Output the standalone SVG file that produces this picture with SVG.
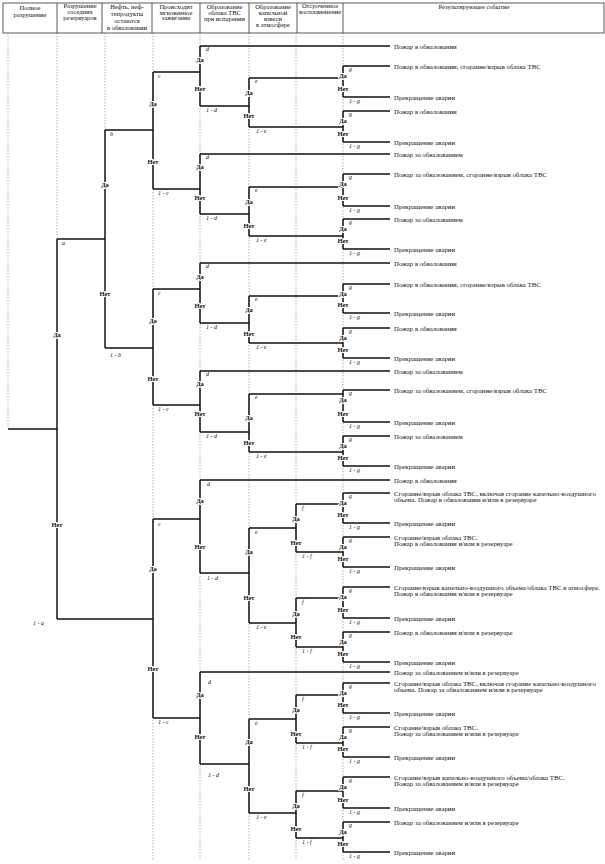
<svg xmlns="http://www.w3.org/2000/svg" width="605" height="864" viewBox="0 0 605 864">
<style>
text{font-family:"Liberation Serif","Times New Roman",serif;fill:#111}
.h{font-size:6.5px;text-anchor:middle}
.o{font-size:6.8px}
.yn{font-size:6.5px;text-anchor:middle;stroke:#fff;stroke-width:2.2;paint-order:stroke;font-weight:bold}
.p{font-size:6px;font-style:italic}
.ln{stroke:#111;stroke-width:1.5;fill:none}
.gd{stroke:#888;stroke-width:0.7;stroke-dasharray:1.5 1.5;fill:none}
.hd{stroke:#333;stroke-width:0.8;fill:none}
</style>
<rect width="605" height="864" fill="#fff"/>
<g id="header">
<rect class="hd" x="3" y="3" width="601" height="30"/>
<path class="hd" d="M57 3V33M102 3V33M152 3V33M200 3V33M249 3V33M297 3V33M343 3V33"/>
<text class="h" x="30" y="10">Полное</text><text class="h" x="30" y="16.5">разрушение</text>
<text class="h" x="80" y="8">Разрушение</text><text class="h" x="80" y="14">соседних</text><text class="h" x="80" y="20">резервуаров</text>
<text class="h" x="127" y="9">Нефть, неф-</text><text class="h" x="127" y="16">тепродукты</text><text class="h" x="127" y="23">остаются</text><text class="h" x="127" y="30">в обваловании</text>
<text class="h" x="176" y="9">Происходит</text><text class="h" x="176" y="14.5">мгновенное</text><text class="h" x="176" y="20">зажигание</text>
<text class="h" x="224.5" y="9">Образование</text><text class="h" x="224.5" y="15">облака ТВС</text><text class="h" x="224.5" y="21">при испарении</text>
<text class="h" x="273" y="9">Образование</text><text class="h" x="273" y="15">капельной</text><text class="h" x="273" y="21">взвеси</text><text class="h" x="273" y="27">в атмосфере</text>
<text class="h" x="320" y="8">Отсроченное</text><text class="h" x="320" y="14">воспламенение</text>
<text class="h" x="474" y="9">Результирующее событие</text>
</g>
<g id="guides">
<path class="gd" d="M8 33V429M57 33V239M105 33V130M153 33V860M200 33V860M249 33V860M296 33V860M343 33V860"/>
</g>
<g id="connectors">
<path class="ln" d="M8 429H57M57 239H105M57 619H153M105 130H153M105 348H153
M153 72H200M153 189H200M200 46H390M200 106H249M249 78H343M249 127H343
M343 66H390M343 97H390M343 111H390M343 142H390
M200 154H390M200 214H249M249 187H343M249 236H343
M343 174H390M343 206H390M343 219H390M343 249H390
M153 289H200M153 405H200M200 263H390M200 323H249M249 296H343M249 343H343
M343 284H390M343 313H390M343 328H390M343 358H390
M200 371H390M200 432H249M249 394H343M249 452H343
M343 390H390M343 422H390M343 436H390M343 466H390
M153 519H200M153 718H200M200 480H390M200 573H249M249 528H296M249 623H296
M296 504H343M296 552H343M296 598H343M296 647H343
M343 493H390M343 523H390M343 537H390M343 567H390M343 587H390M343 618H390M343 632H390M343 662H390
M200 672H390M200 764H249M249 719H296M249 813H296
M296 695H343M296 743H343M296 791H343M296 838H343
M343 683H390M343 713H390M343 727H390M343 757H390M343 777H390M343 808H390M343 822H390M343 852H390"/>
<text class="p" x="62" y="245">a</text><text class="p" x="33" y="625">1 - a</text>
<text class="p" x="110" y="136">b</text><text class="p" x="110" y="357">1 - b</text>
<text class="p" x="158" y="78">c</text><text class="p" x="158" y="195">1 - c</text>
<text class="p" x="206" y="51">d</text><text class="p" x="206" y="112">1 - d</text>
<text class="p" x="255" y="83">e</text><text class="p" x="256" y="133">1 - e</text>
<text class="p" x="206" y="159">d</text><text class="p" x="206" y="220">1 - d</text>
<text class="p" x="255" y="192">e</text><text class="p" x="256" y="242">1 - e</text>
<text class="p" x="158" y="295">c</text><text class="p" x="158" y="411">1 - c</text>
<text class="p" x="206" y="268">d</text><text class="p" x="206" y="329">1 - d</text>
<text class="p" x="255" y="301">e</text><text class="p" x="256" y="349">1 - e</text>
<text class="p" x="206" y="376">d</text><text class="p" x="206" y="438">1 - d</text>
<text class="p" x="255" y="399">e</text><text class="p" x="256" y="458">1 - e</text>
<text class="p" x="158" y="526">c</text><text class="p" x="158" y="724">1 - c</text>
<text class="p" x="207" y="486">d</text><text class="p" x="207" y="580">1 - d</text>
<text class="p" x="255" y="534">e</text><text class="p" x="256" y="629">1 - e</text>
<text class="p" x="302" y="510">f</text><text class="p" x="302" y="558">1 - f</text>
<text class="p" x="302" y="604">f</text><text class="p" x="302" y="653">1 - f</text>
<text class="p" x="208" y="684">d</text><text class="p" x="208" y="777">1 - d</text>
<text class="p" x="255" y="725">e</text><text class="p" x="256" y="819">1 - e</text>
<text class="p" x="302" y="701">f</text><text class="p" x="302" y="749">1 - f</text>
<text class="p" x="302" y="797">f</text><text class="p" x="302" y="844">1 - f</text>
<g id="glabels">
<text class="p" x="349" y="71">g</text><text class="p" x="349" y="103">1 - g</text>
<text class="p" x="349" y="116">g</text><text class="p" x="349" y="148">1 - g</text>
<text class="p" x="349" y="179">g</text><text class="p" x="349" y="212">1 - g</text>
<text class="p" x="349" y="224">g</text><text class="p" x="349" y="255">1 - g</text>
<text class="p" x="349" y="289">g</text><text class="p" x="349" y="319">1 - g</text>
<text class="p" x="349" y="333">g</text><text class="p" x="349" y="364">1 - g</text>
<text class="p" x="349" y="395">g</text><text class="p" x="349" y="428">1 - g</text>
<text class="p" x="349" y="441">g</text><text class="p" x="349" y="472">1 - g</text>
<text class="p" x="349" y="498">g</text><text class="p" x="349" y="529">1 - g</text>
<text class="p" x="349" y="542">g</text><text class="p" x="349" y="573">1 - g</text>
<text class="p" x="349" y="592">g</text><text class="p" x="349" y="624">1 - g</text>
<text class="p" x="349" y="637">g</text><text class="p" x="349" y="668">1 - g</text>
<text class="p" x="349" y="688">g</text><text class="p" x="349" y="719">1 - g</text>
<text class="p" x="349" y="732">g</text><text class="p" x="349" y="763">1 - g</text>
<text class="p" x="349" y="782">g</text><text class="p" x="349" y="814">1 - g</text>
<text class="p" x="349" y="827">g</text><text class="p" x="349" y="858">1 - g</text>
</g>
</g>
<g id="nA"><path class="ln" d="M57 239V619"/><text class="yn" x="57" y="336.5">Да</text><text class="yn" x="57" y="526.5">Нет</text></g>
<g id="nB"><path class="ln" d="M105 130V348"/><text class="yn" x="105" y="187">Да</text><text class="yn" x="105" y="296">Нет</text></g>
<g id="nC1"><path class="ln" d="M153 72V189"/><text class="yn" x="153" y="105.5">Да</text><text class="yn" x="153" y="163.5">Нет</text></g>
<g id="nC2"><path class="ln" d="M153 289V405"/><text class="yn" x="153" y="322.5">Да</text><text class="yn" x="153" y="380.5">Нет</text></g>
<g id="nC3"><path class="ln" d="M153 519V718"/><text class="yn" x="153" y="570.5">Да</text><text class="yn" x="153" y="670.5">Нет</text></g>
<g id="nD1"><path class="ln" d="M200 46V106"/><text class="yn" x="200" y="61.5">Да</text><text class="yn" x="200" y="90.5">Нет</text></g>
<g id="nD2"><path class="ln" d="M200 154V214"/><text class="yn" x="200" y="168.5">Да</text><text class="yn" x="200" y="199.5">Нет</text></g>
<g id="nD3"><path class="ln" d="M200 263V323"/><text class="yn" x="200" y="278.5">Да</text><text class="yn" x="200" y="307.5">Нет</text></g>
<g id="nD4"><path class="ln" d="M200 371V432"/><text class="yn" x="200" y="385.5">Да</text><text class="yn" x="200" y="415.5">Нет</text></g>
<g id="nD5"><path class="ln" d="M200 480V573"/><text class="yn" x="200" y="502.5">Да</text><text class="yn" x="200" y="548.5">Нет</text></g>
<g id="nD6"><path class="ln" d="M200 672V764"/><text class="yn" x="200" y="696.5">Да</text><text class="yn" x="200" y="738.5">Нет</text></g>
<g id="nE1"><path class="ln" d="M249 78V127"/><text class="yn" x="249" y="94.5">Да</text><text class="yn" x="249" y="117.5">Нет</text></g>
<g id="nE2"><path class="ln" d="M249 187V236"/><text class="yn" x="249" y="203.5">Да</text><text class="yn" x="249" y="227.5">Нет</text></g>
<g id="nE3"><path class="ln" d="M249 296V343"/><text class="yn" x="249" y="311.5">Да</text><text class="yn" x="249" y="335.5">Нет</text></g>
<g id="nE4"><path class="ln" d="M249 394V452"/><text class="yn" x="249" y="419.5">Да</text><text class="yn" x="249" y="444.5">Нет</text></g>
<g id="nE5"><path class="ln" d="M249 528V623"/><text class="yn" x="249" y="553.5">Да</text><text class="yn" x="249" y="599.5">Нет</text></g>
<g id="nE6"><path class="ln" d="M249 719V813"/><text class="yn" x="249" y="743.5">Да</text><text class="yn" x="249" y="790.5">Нет</text></g>
<g id="nF1"><path class="ln" d="M296 504V552"/><text class="yn" x="296" y="520.5">Да</text><text class="yn" x="296" y="544.5">Нет</text></g>
<g id="nF2"><path class="ln" d="M296 598V647"/><text class="yn" x="296" y="615.5">Да</text><text class="yn" x="296" y="638.5">Нет</text></g>
<g id="nF3"><path class="ln" d="M296 695V743"/><text class="yn" x="296" y="711.5">Да</text><text class="yn" x="296" y="735.5">Нет</text></g>
<g id="nF4"><path class="ln" d="M296 791V838"/><text class="yn" x="296" y="807.5">Да</text><text class="yn" x="296" y="830.5">Нет</text></g>
<g id="nG1"><path class="ln" d="M343 66V97"/><text class="yn" x="343" y="78">Да</text><text class="yn" x="343" y="91">Нет</text></g>
<g id="nG2"><path class="ln" d="M343 111V142"/><text class="yn" x="343" y="123">Да</text><text class="yn" x="343" y="136">Нет</text></g>
<g id="nG3"><path class="ln" d="M343 174V206"/><text class="yn" x="343" y="186">Да</text><text class="yn" x="343" y="200">Нет</text></g>
<g id="nG4"><path class="ln" d="M343 219V249"/><text class="yn" x="343" y="231">Да</text><text class="yn" x="343" y="243">Нет</text></g>
<g id="nG5"><path class="ln" d="M343 284V313"/><text class="yn" x="343" y="296">Да</text><text class="yn" x="343" y="307">Нет</text></g>
<g id="nG6"><path class="ln" d="M343 328V358"/><text class="yn" x="343" y="340">Да</text><text class="yn" x="343" y="352">Нет</text></g>
<g id="nG7"><path class="ln" d="M343 390V422"/><text class="yn" x="343" y="402">Да</text><text class="yn" x="343" y="416">Нет</text></g>
<g id="nG8"><path class="ln" d="M343 436V466"/><text class="yn" x="343" y="448">Да</text><text class="yn" x="343" y="460">Нет</text></g>
<g id="nG9"><path class="ln" d="M343 493V523"/><text class="yn" x="343" y="505">Да</text><text class="yn" x="343" y="517">Нет</text></g>
<g id="nG10"><path class="ln" d="M343 537V567"/><text class="yn" x="343" y="549">Да</text><text class="yn" x="343" y="561">Нет</text></g>
<g id="nG11"><path class="ln" d="M343 587V618"/><text class="yn" x="343" y="599">Да</text><text class="yn" x="343" y="612">Нет</text></g>
<g id="nG12"><path class="ln" d="M343 632V662"/><text class="yn" x="343" y="644">Да</text><text class="yn" x="343" y="656">Нет</text></g>
<g id="nG13"><path class="ln" d="M343 683V713"/><text class="yn" x="343" y="695">Да</text><text class="yn" x="343" y="707">Нет</text></g>
<g id="nG14"><path class="ln" d="M343 727V757"/><text class="yn" x="343" y="739">Да</text><text class="yn" x="343" y="751">Нет</text></g>
<g id="nG15"><path class="ln" d="M343 777V808"/><text class="yn" x="343" y="789">Да</text><text class="yn" x="343" y="802">Нет</text></g>
<g id="nG16"><path class="ln" d="M343 822V852"/><text class="yn" x="343" y="834">Да</text><text class="yn" x="343" y="846">Нет</text></g>
<g id="outcomes">
<text class="o" x="394" y="48.5">Пожар в обваловании</text>
<text class="o" x="394" y="68.5">Пожар в обваловании, сгорание/взрыв облака ТВС</text>
<text class="o" x="394" y="99.5">Прекращение аварии</text>
<text class="o" x="394" y="113.5">Пожар в обваловании</text>
<text class="o" x="394" y="144.5">Прекращение аварии</text>
<text class="o" x="394" y="156.5">Пожар за обвалованием</text>
<text class="o" x="394" y="176.5">Пожар за обвалованием, сгорание/взрыв облака ТВС</text>
<text class="o" x="394" y="208.5">Прекращение аварии</text>
<text class="o" x="394" y="221.5">Пожар за обвалованием</text>
<text class="o" x="394" y="251.5">Прекращение аварии</text>
<text class="o" x="394" y="265.5">Пожар в обваловании</text>
<text class="o" x="394" y="286.5">Пожар в обваловании, сгорание/взрыв облака ТВС</text>
<text class="o" x="394" y="315.5">Прекращение аварии</text>
<text class="o" x="394" y="330.5">Пожар в обваловании</text>
<text class="o" x="394" y="360.5">Прекращение аварии</text>
<text class="o" x="394" y="373.5">Пожар за обвалованием</text>
<text class="o" x="394" y="392.5">Пожар за обвалованием, сгорание/взрыв облака ТВС</text>
<text class="o" x="394" y="424.5">Прекращение аварии</text>
<text class="o" x="394" y="438.5">Пожар за обвалованием</text>
<text class="o" x="394" y="468.5">Прекращение аварии</text>
<text class="o" x="394" y="482.5">Пожар в обваловании</text>
<text class="o" x="394" y="495.5">Сгорание/взрыв облака ТВС, включая сгорание капельно-воздушного</text>
<text class="o" x="394" y="502">объема. Пожар в обваловании и/или в резервуаре</text>
<text class="o" x="394" y="525.5">Прекращение аварии</text>
<text class="o" x="394" y="539.5">Сгорание/взрыв облака ТВС.</text>
<text class="o" x="394" y="546">Пожар в обваловании и/или в резервуаре</text>
<text class="o" x="394" y="569.5">Прекращение аварии</text>
<text class="o" x="394" y="589.5" textLength="206" lengthAdjust="spacingAndGlyphs">Сгорание/взрыв капельно-воздушного объема/облака ТВС в атмосфере.</text>
<text class="o" x="394" y="596">Пожар в обваловании и/или в резервуаре</text>
<text class="o" x="394" y="620.5">Прекращение аварии</text>
<text class="o" x="394" y="634.5">Пожар в обваловании и/или в резервуаре</text>
<text class="o" x="394" y="664.5">Прекращение аварии</text>
<text class="o" x="394" y="674.5">Пожар за обвалованием и/или в резервуаре</text>
<text class="o" x="394" y="685.5">Сгорание/взрыв облака ТВС, включая сгорание капельно-воздушного</text>
<text class="o" x="394" y="692">объема. Пожар за обвалованием и/или в резервуаре</text>
<text class="o" x="394" y="715.5">Прекращение аварии</text>
<text class="o" x="394" y="729.5">Сгорание/взрыв облака ТВС.</text>
<text class="o" x="394" y="736">Пожар за обвалованием и/или в резервуаре</text>
<text class="o" x="394" y="759.5">Прекращение аварии</text>
<text class="o" x="394" y="779.5">Сгорание/взрыв капельно-воздушного объема/облака ТВС.</text>
<text class="o" x="394" y="786">Пожар за обвалованием и/или в резервуаре</text>
<text class="o" x="394" y="810.5">Прекращение аварии</text>
<text class="o" x="394" y="824.5">Пожар за обвалованием и/или в резервуаре</text>
<text class="o" x="394" y="854.5">Прекращение аварии</text>
</g>
</svg>
